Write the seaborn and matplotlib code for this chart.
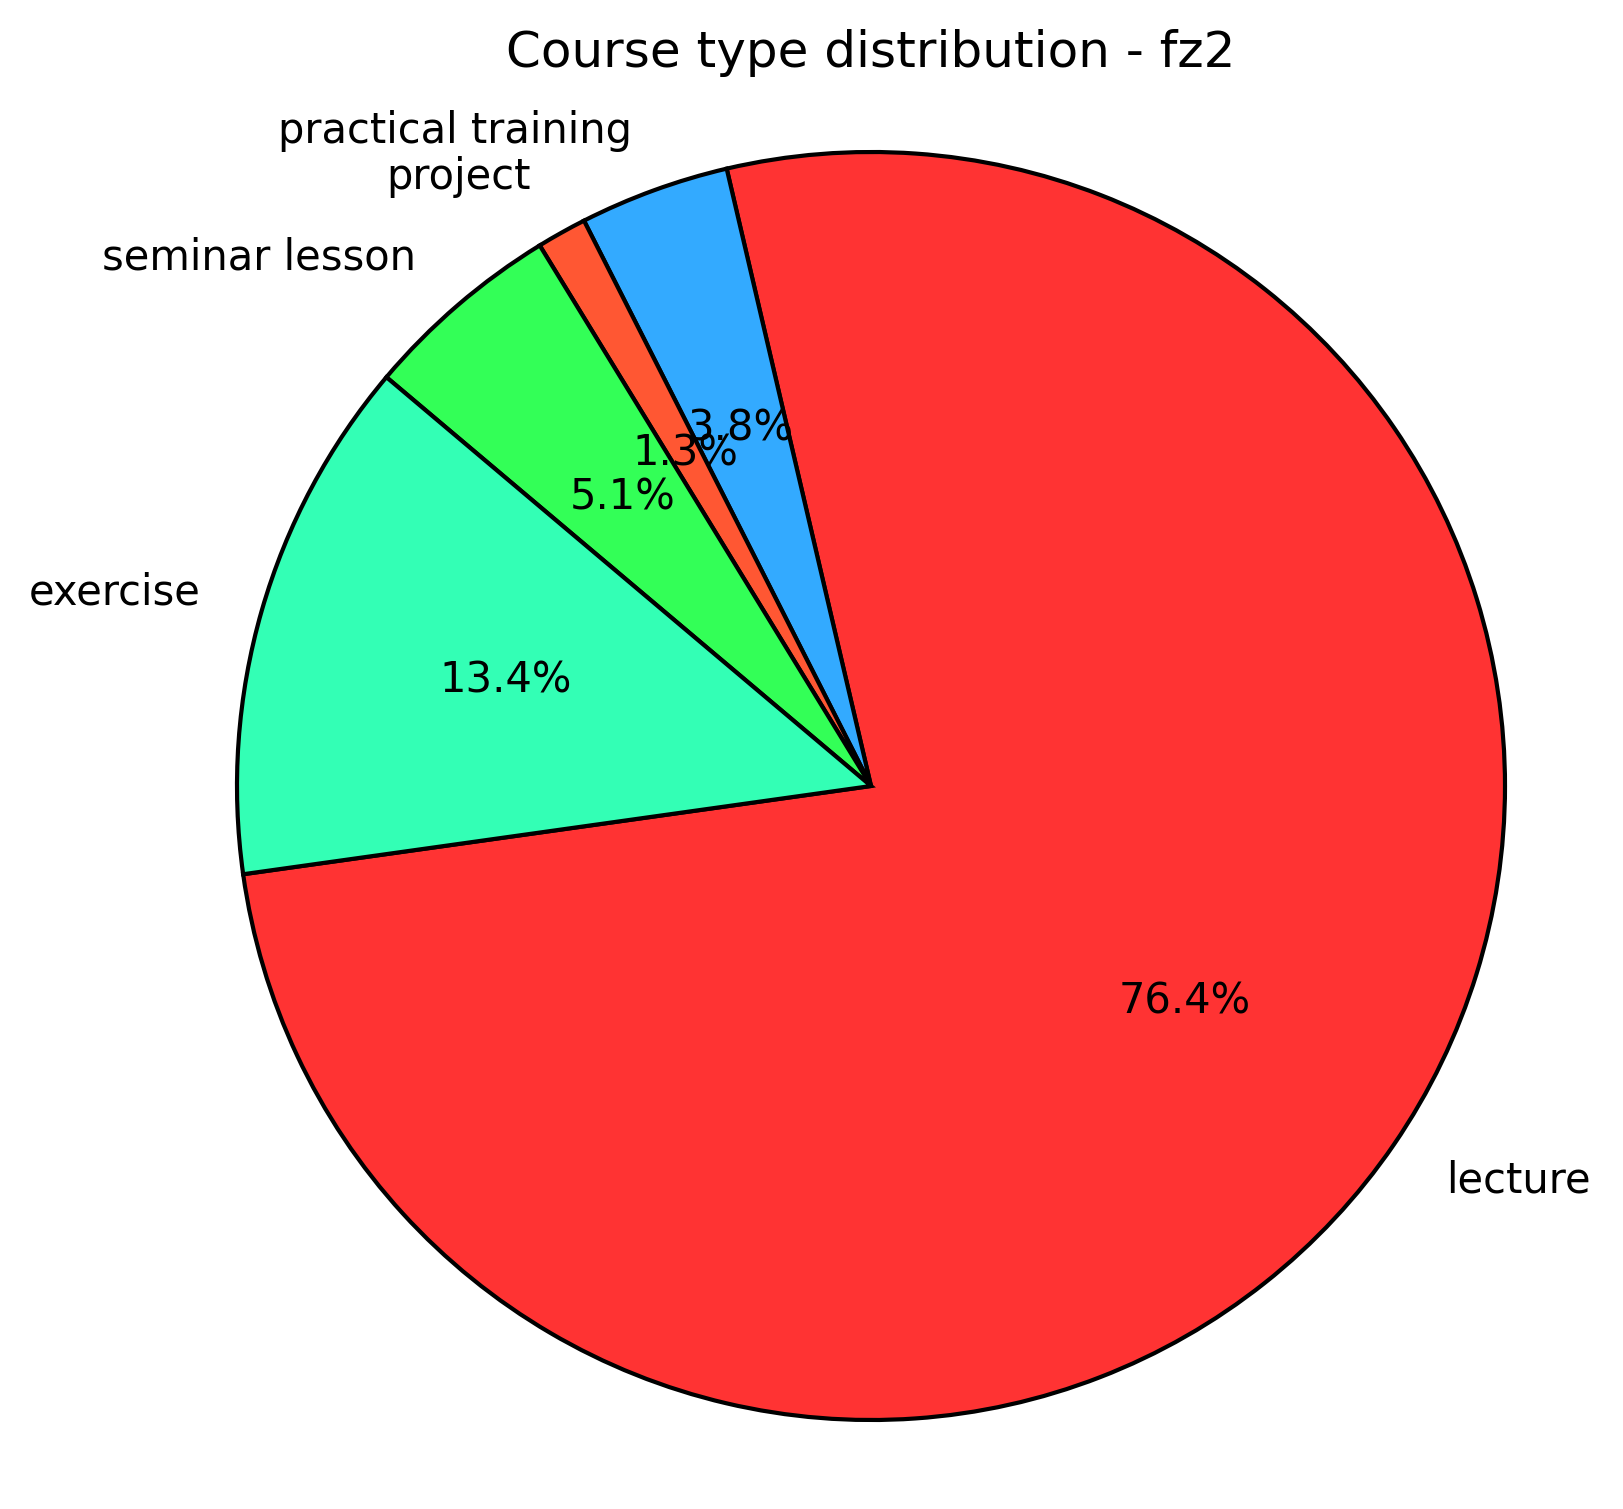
import matplotlib
matplotlib.use("Agg")
import matplotlib.pyplot as plt
import seaborn as sns

# course counts per type (fz2)
course_types = ['lecture', 'practical training', 'project', 'seminar lesson', 'exercise']
course_counts = [120, 6, 2, 8, 21]
slice_colors = ['#FF3333', '#33AAFF', '#FF5733', '#33FF57', '#33FFB5']

sns.set_style("white")
plt.rcParams['font.family'] = ['DejaVu Sans']
plt.rcParams['text.color'] = 'black'

fig = plt.figure(figsize=(5.41, 5.03), dpi=300)
# square axes in pixels: pie radius ~634 px, centre at (871, 786)
ax = fig.add_axes([(871 - 792.5) / 1623, (1509 - 786 - 792.5) / 1509, 1585 / 1623, 1585 / 1509])

ax.pie(course_counts, labels=course_types, colors=sns.color_palette(slice_colors),
       autopct='%1.1f%%', startangle=188,
       wedgeprops={'edgecolor': 'black', 'linewidth': 1},
       textprops={'fontsize': 10, 'color': 'black'})
ax.set_xlim(-1.25, 1.25)
ax.set_ylim(-1.25, 1.25)
ax.set_aspect('equal')

fig.suptitle('Course type distribution - fz2', fontsize=12, color='black',
             x=871 / 1623, y=1 - 67 / 1509, va='baseline')

fig.savefig('out.png', dpi=300)
